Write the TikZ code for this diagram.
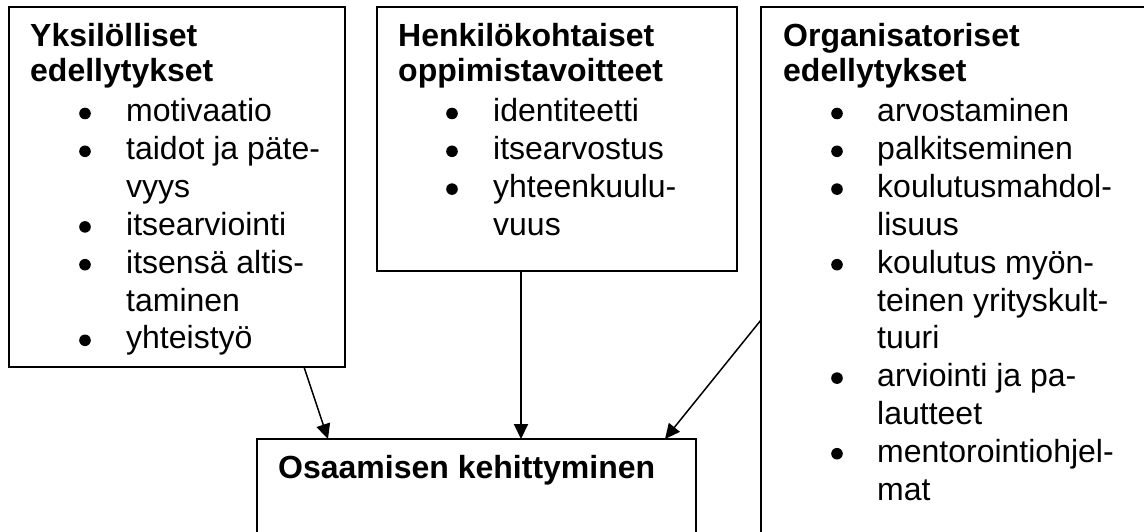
\documentclass[tikz,border=0pt]{standalone}
\usepackage{fontspec}
\setmainfont{Liberation Sans}
\usetikzlibrary{arrows.meta}
\begin{document}
\begin{tikzpicture}[x=1pt,y=-1pt,
  box/.style={draw, line width=2pt, rectangle, inner sep=0pt, outer sep=0pt, anchor=north west},
  head/.style={font=\fontsize{32}{38}\selectfont\bfseries, anchor=base west, inner sep=0pt},
  item/.style={font=\fontsize{32}{38}\selectfont, anchor=base west, inner sep=0pt},
  dot/.style={radius=5.8pt},
  arr/.style={line width=1.5pt, -{Triangle[length=15pt,width=14pt]}}]
\useasboundingbox (0,0) rectangle (1144,532);
\fill[white] (0,0) rectangle (1144,532);
\clip (0,0) rectangle (1144,532);

% frames
\node[box, minimum width=336pt, minimum height=360pt] (yks) at (9,7) {};
\node[box, minimum width=360pt, minimum height=264pt] (hen) at (377,7) {};
\node[box, minimum width=420pt, minimum height=560pt] (org) at (761,7) {};
\node[box, minimum width=439pt, minimum height=120pt] (osa) at (257,439) {};

% headings
\node[head] (yksh1) at (30,47) {Yksilölliset};
\node[head] (yksh2) at (30,82) {edellytykset};
\node[head] (henh1) at (398,47) {Henkilökohtaiset};
\node[head] (henh2) at (398,82) {oppimistavoitteet};
\node[head] (orgh1) at (783,47) {Organisatoriset};
\node[head] (orgh2) at (783,82) {edellytykset};
\node[head] (osah) at (278,478) {Osaamisen kehittyminen};

% bullet lists (1 = line starts a new item)
\foreach \b/\t [count=\i from 0] in {1/motivaatio, 1/taidot ja päte-, 0/vyys,
    1/itsearviointi, 1/itsensä altis-, 0/taminen, 1/yhteistyö} {
  \pgfmathsetmacro\yy{122+37.8*\i}
  \node[item] (yk\i) at (126,\yy) {\t};
  \ifnum\b=1 \fill (85,\yy-8.5) circle[dot]; \fi
}
\foreach \b/\t [count=\i from 0] in {1/identiteetti, 1/itsearvostus,
    1/yhteenkuulu-, 0/vuus} {
  \pgfmathsetmacro\yy{122+37.8*\i}
  \node[item] (he\i) at (493,\yy) {\t};
  \ifnum\b=1 \fill (452,\yy-8.5) circle[dot]; \fi
}
\foreach \b/\t [count=\i from 0] in {1/arvostaminen, 1/palkitseminen,
    1/koulutusmahdol-, 0/lisuus, 1/koulutus myön-, 0/teinen yrityskult-,
    0/tuuri, 1/arviointi ja pa-, 0/lautteet, 1/mentorointiohjel-, 0/mat} {
  \pgfmathsetmacro\yy{122+37.8*\i}
  \node[item] (or\i) at (877,\yy) {\t};
  \ifnum\b=1 \fill (837,\yy-8.5) circle[dot]; \fi
}

% connectors
\draw[arr] ([xshift=295pt]yks.south west) -- ([xshift=71pt]osa.north west);
\draw[arr, line width=2pt] ([xshift=144pt]hen.south west) -- ([xshift=264pt]osa.north west);
\draw[arr] ([yshift=-313pt]org.north west) -- ([xshift=408pt]osa.north west);
\end{tikzpicture}
\end{document}
